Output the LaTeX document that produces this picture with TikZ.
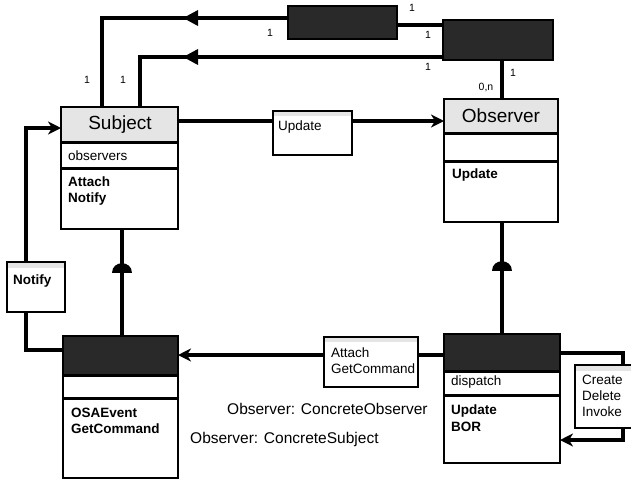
\documentclass[tikz,border=0pt]{standalone}
\usepackage{fontspec}
\setmainfont{Liberation Sans}
\usetikzlibrary{arrows.meta,decorations.markings}

\pgfdeclarelayer{lines}
\pgfsetlayers{lines,main}

\tikzset{
  conn/.style={line width=3.4pt},
  tip/.style={-{Stealth[length=13pt,width=13pt,inset=4pt]}},
  boxline/.style={line width=2.6pt},
  sepline/.style={line width=3pt},
  shell/.style={fill=white,inner sep=0pt,outer sep=0pt,anchor=north west},
  lighthead/.style={fill=black!10},
  darkhead/.style={fill=black!84},
  title/.style={font=\fontsize{19}{22}\selectfont, inner sep=0pt},
  item/.style={font=\fontsize{13.5}{16}\selectfont\bfseries, anchor=base west, inner sep=0pt},
  plain/.style={font=\fontsize{13.5}{16}\selectfont, anchor=base west, inner sep=0pt},
  mult/.style={font=\fontsize{10.5}{12}\selectfont, inner sep=0pt},
  caption/.style={font=\fontsize{15.5}{18}\selectfont, anchor=base west, inner sep=0pt},
  midarrow/.style={postaction={decorate,decoration={markings,
      mark=at position #1 with {\arrow{Triangle[length=15pt,width=15pt]}}}}},
}

% class box: name, x1, y1, x2, y2, header bottom, attribute bottom, header style
\newcommand\classbox[8]{%
  \node[shell,minimum width={(#4-#2)*1pt},minimum height={(#5-#3)*1pt}] (#1) at (#2,#3) {};
  \fill[#8] (#2,#3) rectangle (#4,#6);
  \draw[sepline] (#2,#6) -- (#4,#6);
  \draw[sepline] (#2,#7) -- (#4,#7);
  \draw[boxline] (#1.north west) rectangle (#1.south east);
}
% small note box with a thin light strip on top: name, x1, y1, x2, y2, strip bottom
\newcommand\notebox[6]{%
  \node[shell,minimum width={(#4-#2)*1pt},minimum height={(#5-#3)*1pt}] (#1) at (#2,#3) {};
  \fill[lighthead] (#2,#3) rectangle (#4,#6);
  \draw[boxline] (#1.north west) rectangle (#1.south east);
}
% dark box: name, x1, y1, x2, y2
\newcommand\darkbox[5]{%
  \node[shell,darkhead,minimum width={(#4-#2)*1pt},minimum height={(#5-#3)*1pt}] (#1) at (#2,#3) {};
  \draw[boxline] (#1.north west) rectangle (#1.south east);
}

\begin{document}
\begin{tikzpicture}[x=1pt,y=-1pt]
\useasboundingbox (0,0) rectangle (631,480);
\clip (0,0) rectangle (631,480);

% ---------- boxes ----------
\classbox{subject}{61}{107}{178}{229}{142}{168}{lighthead}
\classbox{observer}{444}{99}{558}{222}{133}{161}{lighthead}
\classbox{osa}{63}{336}{178}{478}{375}{398}{darkhead}
\classbox{disp}{444}{334}{560}{463}{371}{395}{darkhead}
\darkbox{topa}{288}{6}{397}{39}
\darkbox{topb}{443}{20}{553}{60}

\notebox{upd}{273}{111}{352}{155}{116}
\notebox{att}{324}{337}{418}{387}{342}
\notebox{ntf}{7}{262}{65}{312}{268}
\notebox{cdi}{575}{365}{645}{428}{371}

% ---------- connectors, kept beneath the boxes ----------
\coordinate (cA) at (102,18);
\coordinate (cB) at (140,57);
\coordinate (cN1) at (26,350);
\coordinate (cN2) at (26,128);
\coordinate (cR1) at (623,353);
\coordinate (cR2) at (623,440);

\begin{pgfonlayer}{lines}
\fill[white] (0,0) rectangle (631,480);

\draw[conn,midarrow=105pt] (topa.west |- cA) -- (cA) -- (cA |- subject.north);
\draw[conn,midarrow=260pt] (topb.west |- cB) -- (cB) -- (cB |- subject.north);
\draw[conn] (topa.east |- 0,25) -- (topb.west |- 0,25);
\draw[conn] (topb.south -| 502,0) -- (observer.north -| 502,0);

\draw[conn,tip] (subject.east |- 0,121) -- (observer.west |- 0,121);
\draw[conn,tip] (disp.west |- 0,355) -- (osa.east |- 0,355);
\draw[conn,tip] (osa.west |- cN1) -- (cN1) -- (cN2) -- (subject.west |- cN2);
\draw[conn,tip] (disp.east |- cR1) -- (cR1) -- (cR2) -- (disp.east |- cR2);

% inheritance
\draw[conn] (subject.south -| 122,0) -- (osa.north -| 122,0);
\fill (112,273) .. controls (112,260) and (132,260) .. (132,273) -- cycle;
\draw[conn] (observer.south -| 502,0) -- (disp.north -| 502,0);
\fill (492,271) .. controls (492,258) and (512,258) .. (512,271) -- cycle;
\end{pgfonlayer}

% ---------- texts ----------
\node[title] (tSubject) at (120,125) {Subject};
\node[title] (tObserver) at (501,116) {Observer};

\node[plain] (sAttr) at (68,160) {observers};
\node[item] (sM1) at (68,186) {Attach};
\node[item] (sM2) at (68,202) {Notify};

\node[item] (oM1) at (452,178) {Update};

\node[item] (aM1) at (71,417) {OSAEvent};
\node[item] (aM2) at (71,433) {GetCommand};

\node[plain] (dAttr) at (451,385) {dispatch};
\node[item] (dM1) at (451,414) {Update};
\node[item] (dM2) at (451,431) {BOR};

\node[plain] (uT) at (278,130) {Update};
\node[plain] (atT1) at (331,357) {Attach};
\node[plain] (atT2) at (331,373) {GetCommand};
\node[item] (nT) at (13,284) {Notify};
\node[plain] (cT1) at (582,384) {Create};
\node[plain] (cT2) at (582,400) {Delete};
\node[plain] (cT3) at (582,416) {Invoke};

\node[caption] (cap1) at (227,414) {Observer: ConcreteObserver};
\node[caption] (cap2) at (190,443) {Observer: ConcreteSubject};

% multiplicities
\node[mult] (m1) at (270,33) {1};
\node[mult] (m2) at (412,8) {1};
\node[mult] (m3) at (428,35) {1};
\node[mult] (m4) at (428,67) {1};
\node[mult] (m5) at (513,73) {1};
\node[mult] (m6) at (486,88) {0,n};
\node[mult] (m7) at (87,80) {1};
\node[mult] (m8) at (123,80) {1};
\end{tikzpicture}
\end{document}
